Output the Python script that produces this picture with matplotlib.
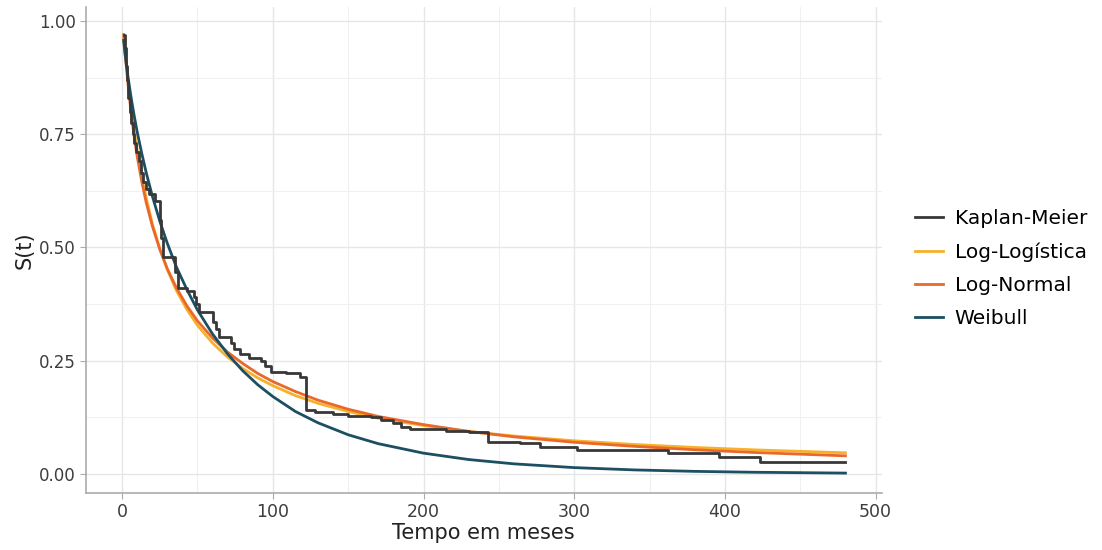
import matplotlib
matplotlib.use('Agg')
import matplotlib.pyplot as plt
from matplotlib.ticker import MultipleLocator

# Kaplan-Meier steps (time in months, survival after the step)
km_t = [1.5, 2, 2.5, 3, 4, 5, 6, 7, 8, 9.5, 11, 12.5, 14, 16, 18, 22, 25, 26, 27,
        35, 37, 43, 48, 49, 51, 60, 62, 64, 72, 74, 78, 84, 92, 95, 99, 109, 118,
        122, 128, 140, 150, 165, 172, 180, 185, 191, 215, 230, 243, 264, 277, 302,
        362, 396, 423, 480]
km_s = [0.970, 0.94, 0.90, 0.87, 0.83, 0.80, 0.775, 0.75, 0.73, 0.71, 0.69, 0.665,
        0.645, 0.63, 0.617, 0.603, 0.56, 0.52, 0.479, 0.445, 0.41, 0.405, 0.39,
        0.375, 0.358, 0.335, 0.32, 0.302, 0.29, 0.275, 0.265, 0.255, 0.25, 0.238,
        0.226, 0.222, 0.215, 0.141, 0.1375, 0.132, 0.128, 0.125, 0.119, 0.112,
        0.103, 0.099, 0.095, 0.092, 0.071, 0.068, 0.060, 0.052, 0.046, 0.038,
        0.027, 0.027]

# fitted curves
fit_t = [1, 2, 4, 6, 8, 10, 13, 16, 20, 25, 30, 36, 43, 50, 60, 70, 80, 90, 100,
         115, 130, 150, 170, 200, 230, 260, 300, 340, 380, 420, 480]
loglog_s = [0.963, 0.928, 0.864, 0.808, 0.759, 0.715, 0.657, 0.609, 0.553, 0.497,
            0.451, 0.405, 0.363, 0.328, 0.289, 0.258, 0.233, 0.212, 0.195, 0.173,
            0.156, 0.138, 0.123, 0.107, 0.0939, 0.0838, 0.0733, 0.0651, 0.0586,
            0.0532, 0.0468]
lognorm_s = [0.970, 0.930, 0.857, 0.796, 0.745, 0.701, 0.646, 0.599, 0.548, 0.496,
             0.453, 0.411, 0.371, 0.338, 0.300, 0.269, 0.244, 0.222, 0.204, 0.182,
             0.163, 0.143, 0.127, 0.109, 0.094, 0.082, 0.070, 0.061, 0.0535,
             0.0474, 0.0401]
weibull_s = [0.957, 0.926, 0.874, 0.830, 0.791, 0.755, 0.708, 0.665, 0.614, 0.558,
             0.509, 0.457, 0.407, 0.362, 0.309, 0.265, 0.228, 0.197, 0.171, 0.138,
             0.113, 0.0866, 0.0669, 0.0460, 0.0319, 0.0224, 0.0141, 0.0090, 0.0058,
             0.0038, 0.0020]

labels = ['Kaplan-Meier', 'Log-Logística', 'Log-Normal', 'Weibull']
colors = ['#383838', '#f7b02c', '#e9692a', '#1c4f61']

fig = plt.figure(figsize=(11.02, 5.5), dpi=100)
ax = fig.add_axes([0.078, 0.1036, 0.722, 0.883])

ax.step(km_t, km_s, where='post', color=colors[0], lw=2.0, label=labels[0], zorder=3)
ax.plot(fit_t, loglog_s, color=colors[1], lw=2.0, label=labels[1], zorder=2)
ax.plot(fit_t, lognorm_s, color=colors[2], lw=2.0, label=labels[2], zorder=2)
ax.plot(fit_t, weibull_s, color=colors[3], lw=2.0, label=labels[3], zorder=2)

ax.set_xlim(-24, 504)
ax.set_ylim(-0.042, 1.03)
ax.xaxis.set_major_locator(MultipleLocator(100))
ax.xaxis.set_minor_locator(MultipleLocator(50))
ax.yaxis.set_major_locator(MultipleLocator(0.25))
ax.yaxis.set_minor_locator(MultipleLocator(0.125))
ax.yaxis.set_major_formatter(plt.FuncFormatter(lambda v, p: f'{v:.2f}'))

ax.grid(which='major', color='#e6e6e6', lw=1.0)
ax.grid(which='minor', color='#f0f0f0', lw=0.8)
ax.set_axisbelow(True)
for s in ['top', 'right']:
    ax.spines[s].set_visible(False)
for s in ['left', 'bottom']:
    ax.spines[s].set_color('#ababab')
    ax.spines[s].set_linewidth(1.2)
ax.tick_params(which='major', length=4, color='#ababab', labelsize=12.5,
               labelcolor='#3d3d3d')
ax.tick_params(axis='y', labelsize=12)
ax.tick_params(which='minor', length=0)

ax.set_xlabel('Tempo em meses', fontsize=15, color='#222222', labelpad=1)
ax.set_ylabel('S(t)', fontsize=15, color='#222222', labelpad=3)

ax.legend(loc='center left', bbox_to_anchor=(0.830, 0.512),
          bbox_transform=fig.transFigure, frameon=False, fontsize=14.5,
          handlelength=1.4, handletextpad=0.58, labelspacing=0.7,
          borderaxespad=0, borderpad=0)

fig.savefig('out.png', dpi=100)
